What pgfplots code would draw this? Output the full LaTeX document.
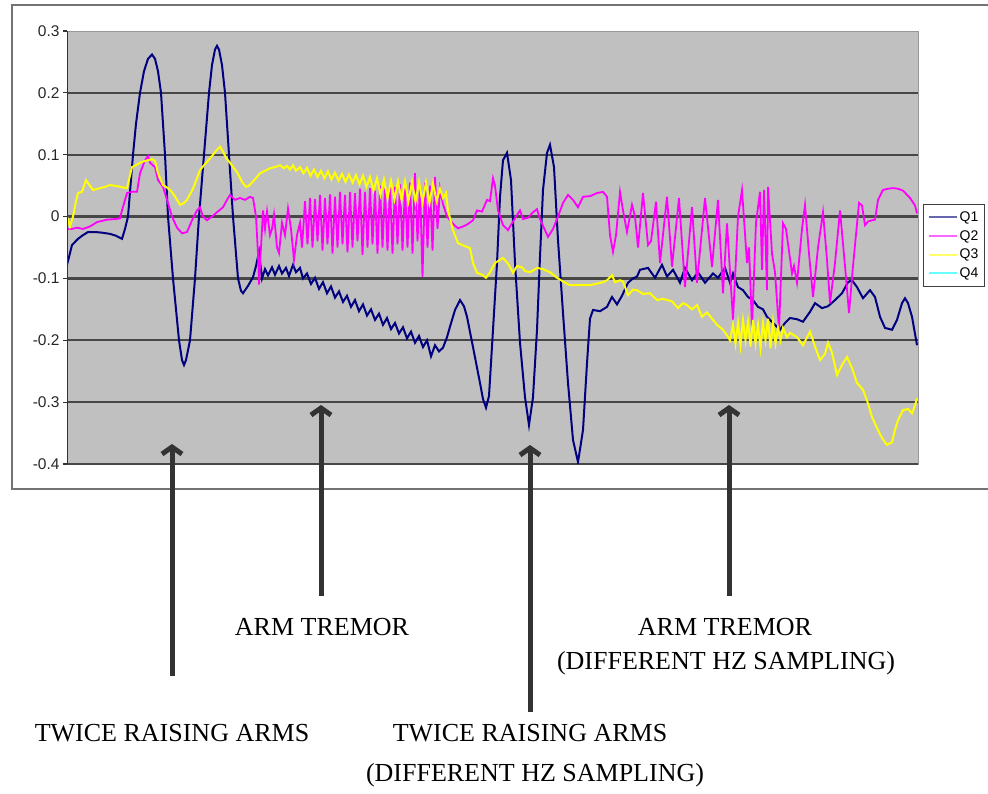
\documentclass[border=0pt]{standalone}
\usepackage{fontspec}
\setmainfont{Liberation Serif}
\newfontfamily\arialfont{Liberation Sans}
\usepackage{pgfplots}
\pgfplotsset{compat=1.18}
\usetikzlibrary{arrows.meta}
\definecolor{qone}{RGB}{0,0,128}
\definecolor{qtwo}{RGB}{255,0,255}
\definecolor{qthree}{RGB}{255,255,0}
\definecolor{qfour}{RGB}{0,255,255}
\definecolor{plotbg}{RGB}{192,192,192}
\definecolor{arrowgray}{RGB}{51,51,51}

\begin{document}
\begin{tikzpicture}[x=1pt,y=1pt]
\useasboundingbox (0,0) rectangle (988,794);
% chart frame, its right side runs off the page
\draw[black!55, line width=1.2pt] (990,789) -- (12,789) -- (12,305) -- (990,305);

\begin{axis}[
  at={(67pt,330pt)}, anchor=south west,
  scale only axis, width=851pt, height=433pt,
  xmin=67, xmax=918, ymin=-0.4, ymax=0.3,
  axis background/.style={fill=plotbg},
  axis line style={black!40, line width=0.8pt},
  xtick=\empty,
  ytick={-0.4,-0.3,-0.2,-0.1,0,0.1,0.2,0.3},
  yticklabels={-0.4,-0.3,-0.2,-0.1,0,0.1,0.2,0.3},
  ytick pos=left,
  ytick style={black!80, line width=1.2pt},
  tick align=outside, major tick length=4pt,
  yticklabel style={font=\arialfont\fontsize{15.5}{18}\selectfont, black!85},
  extra y ticks={-0.4,-0.3,-0.2,-0.1,0,0.1,0.2},
  extra y tick labels={},
  extra y tick style={grid=major, major grid style={black!72, line width=2.2pt}},
  legend style={at={(1.006,0.6005)}, anchor=north west, draw=black!75,
    line width=1pt, fill=white, font=\arialfont\fontsize{14}{16}\selectfont,
    inner xsep=4pt, inner ysep=5pt, row sep=3.5pt, cells={anchor=west}},
  legend image code/.code={\draw[#1, line width=2pt, opacity=0.6] (0pt,0pt) -- (28pt,0pt);},
]
\addplot[qone, line width=2pt] coordinates {
(67,-0.078) (72,-0.046) (78,-0.036) (83,-0.030) (88,-0.025) (95,-0.025) (102,-0.026)
(110,-0.028) (116,-0.031) (122,-0.036) (125,-0.02) (128,0.0) (133,0.1) (136,0.15)
(140,0.2) (144,0.235) (148,0.255) (152,0.262) (155,0.255) (158,0.235) (161,0.2)
(165,0.1) (168,0.0) (173,-0.1) (179,-0.2) (182,-0.232) (184,-0.24) (186,-0.232)
(190,-0.2) (195,-0.1) (199,0.0) (204,0.1) (209,0.2) (212,0.245) (215,0.27) (217,0.276)
(219,0.27) (222,0.245) (225,0.2) (229,0.1) (233,0.0) (238,-0.1) (241,-0.12) (243,-0.124)
(248,-0.112) (253,-0.098) (256,-0.08) (259,-0.057) (262,-0.1) (265,-0.085) (268,-0.095)
(272,-0.082) (275,-0.094) (279,-0.08) (282,-0.092) (286,-0.083) (289,-0.096) (293,-0.078)
(296,-0.09) (300,-0.083) (303,-0.1)
(307,-0.092) (311,-0.109) (315,-0.099) (319,-0.117) (323,-0.106) (327,-0.124) (331,-0.113)
(335,-0.131) (339,-0.121) (343,-0.138) (347,-0.128) (351,-0.146) (355,-0.135) (359,-0.153)
(363,-0.142) (367,-0.160) (371,-0.150) (375,-0.167) (379,-0.157) (383,-0.175) (387,-0.164)
(391,-0.182) (395,-0.172) (399,-0.189) (403,-0.179) (407,-0.197) (411,-0.186) (415,-0.204)
(419,-0.193) (423,-0.211) (427,-0.2) (431,-0.226) (435,-0.208)
(439,-0.218) (443,-0.212) (447,-0.195) (450,-0.178) (455,-0.151) (460,-0.135) (464,-0.145)
(467,-0.162) (473,-0.211) (480,-0.269) (483,-0.295) (486,-0.309) (489,-0.29) (493,-0.183)
(497,-0.075) (500,0.032) (503,0.091) (507,0.103) (511,0.059) (515,-0.075) (520,-0.204)
(525,-0.292) (529,-0.337) (533,-0.292) (537,-0.183) (540,-0.065) (543,0.043) (547,0.103)
(550,0.116) (554,0.08) (558,-0.038) (563,-0.156) (568,-0.269) (573,-0.361) (578,-0.397)
(583,-0.345) (587,-0.237) (590,-0.165) (593,-0.151) (600,-0.153) (607,-0.146) (612,-0.13)
(617,-0.142) (622,-0.128) (628,-0.107) (633,-0.1) (637,-0.097) (640,-0.086) (648,-0.083)
(655,-0.099) (662,-0.078) (667,-0.097) (673,-0.086) (680,-0.107) (685,-0.083) (692,-0.103)
(698,-0.09) (705,-0.107) (713,-0.092) (718,-0.099) (725,-0.083) (730,-0.107) (733,-0.092)
(738,-0.114) (743,-0.119) (748,-0.13) (753,-0.135) (758,-0.146) (763,-0.15) (767,-0.162)
(773,-0.172) (780,-0.183) (785,-0.172) (790,-0.164) (797,-0.166) (803,-0.17) (810,-0.154)
(815,-0.14) (822,-0.148) (828,-0.145) (835,-0.135) (842,-0.124) (848,-0.106) (852,-0.103)
(857,-0.114) (863,-0.132) (870,-0.119) (875,-0.13) (880,-0.162) (885,-0.18) (892,-0.183)
(897,-0.167) (902,-0.14) (905,-0.132) (908,-0.14) (912,-0.162) (917,-0.208)
};
\addlegendentry{Q1}
\addplot[qtwo, line width=1.8pt] coordinates {
(67,-0.02) (72,-0.02) (77,-0.018) (83,-0.02) (90,-0.016) (97,-0.009) (107,-0.005)
(115,-0.004) (120,-0.003) (122,0.01) (127,0.038) (132,0.04) (137,0.04) (140,0.07)
(145,0.091) (148,0.098) (150,0.087) (155,0.08) (158,0.059) (163,0.048) (167,0.027)
(172,0.0) (177,-0.018) (182,-0.027) (187,-0.025) (192,-0.006) (197,0.01) (200,0.015)
(203,0.0) (207,-0.006) (212,0.0) (217,0.007) (223,0.015) (227,0.027) (230,0.035)
(235,0.027) (240,0.03) (245,0.027) (250,0.032) (253,0.03) (256,0.0) (258,-0.06)
(259,-0.11) (261,-0.05) (263,0.01) (265,-0.02) (267,0.008) (270,-0.03) (272,-0.02)
(274,0.003) (277,-0.05) (279,-0.059) (282,-0.01) (285,-0.03) (288,0.013) (291,-0.02)
(294,-0.07) (297,-0.03) (300,-0.01) (302,-0.05)
(305,0.025) (307.5,-0.045) (310,0.03) (312.5,-0.05) (315,0.028) (317.5,-0.04)
(320,0.035) (322.5,-0.055) (325,0.03) (327.5,-0.045) (330,0.036) (332.5,-0.06)
(335,0.032) (337.5,-0.05) (340,0.04) (342.5,-0.045) (345,0.035) (347.5,-0.058)
(350,0.04) (352.5,-0.05) (355,0.038) (357.5,-0.04) (360,0.045) (362.5,-0.062)
(365,0.04) (367.5,-0.05) (370,0.046) (372.5,-0.045) (375,0.042) (377.5,-0.06)
(380,0.05) (382.5,-0.05) (385,0.045) (387.5,-0.055) (390,0.05) (392.5,-0.06)
(395,0.048) (397.5,-0.045) (400,0.052) (402.5,-0.055) (405,0.048) (407.5,-0.05)
(410,0.055) (412.5,-0.06) (415,0.07) (417.5,-0.04) (420,0.05) (422.5,-0.098)
(425,0.055) (427.5,-0.05) (430,0.05) (432.5,-0.055) (435,0.064) (437.5,-0.02)
(440,0.045)
(443,0.02) (447,0.0) (450,-0.006) (455,-0.015) (458,-0.019) (463,-0.016) (467,-0.013)
(473,-0.006) (477,0.01) (482,0.008) (487,0.027) (490,0.025) (493,0.062) (495,0.05)
(498,0.01) (503,-0.014) (508,-0.022) (513,-0.008) (518,0.005) (520,0.01) (523,-0.004)
(528,-0.002) (533,0.007) (537,0.012) (540,-0.004) (545,-0.022) (548,-0.033) (553,-0.02)
(558,0.0) (563,0.022) (568,0.035) (573,0.027) (578,0.015) (583,0.032) (590,0.033)
(597,0.038) (603,0.04) (607,0.032) (610,-0.03) (613,-0.057) (616,-0.03) (620,0.04)
(623,0.01) (627,-0.025) (632,0.019) (635,0.0) (638,-0.05) (643,0.038) (648,-0.046)
(651,-0.04) (656,0.024) (660,-0.075) (667,0.032) (672,-0.081) (679,0.03) (685,-0.114)
(692,0.015) (697,-0.107) (705,0.03) (712,-0.081) (718,0.027) (723,-0.124) (727,-0.011)
(733,-0.167) (738,0.0) (742,0.043) (747,-0.075) (749,-0.05) (752,-0.178) (756,-0.01)
(760,0.04) (762,-0.086) (764,0.043) (767,-0.119) (768,0.048) (772,-0.06) (775,-0.09)
(779,-0.183) (783,-0.011) (786,-0.02) (792,-0.092) (794,-0.08) (797,-0.107) (802,-0.02)
(805,0.019) (809,-0.06) (813,-0.13) (818,-0.05) (823,0.007) (827,-0.07) (830,-0.14)
(835,-0.075) (840,0.01) (845,-0.08) (849,-0.156) (853,-0.08) (859,0.022) (862,0.018)
(865,-0.014) (868,-0.008) (872,-0.006) (875,-0.005) (878,0.027) (883,0.043) (888,0.045)
(893,0.046) (898,0.045) (903,0.042) (910,0.03) (915,0.018) (917,0.005)
};
\addlegendentry{Q2}
\addplot[qthree, line width=2pt] coordinates {
(67,0.0) (70,-0.016) (73,0.0) (76,0.025) (78,0.038) (82,0.04) (86,0.059) (89,0.052)
(93,0.043) (100,0.046) (105,0.048) (110,0.051) (118,0.049) (123,0.047) (127,0.046)
(132,0.08) (136,0.083) (140,0.087) (145,0.09) (148,0.091) (152,0.093) (155,0.09)
(158,0.07) (163,0.051) (167,0.047) (170,0.043) (174,0.035) (177,0.027) (180,0.019)
(184,0.022) (187,0.027) (193,0.045) (200,0.075) (205,0.085) (210,0.094) (215,0.104)
(217,0.108) (220,0.113) (223,0.105) (226,0.095) (230,0.087) (234,0.078) (237,0.072)
(242,0.056) (246,0.048) (249,0.05) (252,0.055) (257,0.064) (260,0.07) (265,0.074)
(270,0.078) (275,0.08) (280,0.083) (284,0.078) (287,0.082) (290,0.076) (293,0.083)
(296,0.074) (300,0.08)
(303.5,0.07) (307,0.079) (310.5,0.066) (314,0.076) (317.5,0.064) (321,0.074)
(324.5,0.062) (328,0.073) (331.5,0.06) (335,0.071) (338.5,0.058) (342,0.069)
(345.5,0.056) (349,0.068) (352.5,0.055) (356,0.067) (359.5,0.052) (363,0.066)
(366.5,0.048) (370,0.064) (373.5,0.042) (377,0.062) (380.5,0.035) (384,0.06)
(387.5,0.03) (391,0.058) (394.5,0.028) (398,0.057) (401.5,0.027) (405,0.057)
(408.5,0.025) (412,0.056) (415.5,0.024) (419,0.056) (422.5,0.023) (426,0.055)
(429.5,0.022) (433,0.054) (436.5,0.025) (440,0.045)
(443,0.03) (446,0.038) (448,0.01) (453,-0.022) (458,-0.043) (465,-0.048) (470,-0.051)
(473,-0.075) (477,-0.091) (482,-0.094) (486,-0.099) (490,-0.09) (495,-0.075) (500,-0.07)
(503,-0.067) (508,-0.076) (513,-0.091) (517,-0.08) (522,-0.082) (525,-0.088) (530,-0.09)
(537,-0.083) (543,-0.085) (550,-0.09) (557,-0.099) (563,-0.105) (570,-0.111) (580,-0.111)
(590,-0.111) (598,-0.108) (603,-0.106) (607,-0.103) (612,-0.095) (615,-0.106) (620,-0.103)
(623,-0.105) (628,-0.127) (633,-0.118) (637,-0.119) (643,-0.125) (650,-0.124) (657,-0.135)
(663,-0.133) (672,-0.137) (678,-0.148) (683,-0.14) (687,-0.143) (692,-0.15) (697,-0.143)
(702,-0.162) (707,-0.155) (712,-0.165) (717,-0.175) (723,-0.183) (727,-0.192) (730,-0.2)
(733,-0.175) (735.5,-0.205) (738,-0.172) (740.5,-0.208) (743,-0.168) (745.5,-0.2)
(748,-0.17) (750.5,-0.21) (753,-0.167) (755.5,-0.205) (758,-0.175) (760.5,-0.212)
(763,-0.172) (765.5,-0.2) (768,-0.165) (770.5,-0.213) (773,-0.17) (775.5,-0.205)
(778,-0.18) (780.5,-0.2) (783,-0.18) (787,-0.195) (790,-0.188) (797,-0.195) (803,-0.208)
(810,-0.186) (815,-0.21) (820,-0.232) (825,-0.222) (828,-0.204) (832,-0.22) (837,-0.256)
(842,-0.24) (847,-0.227) (852,-0.245) (857,-0.269) (863,-0.28) (868,-0.302) (872,-0.324)
(877,-0.342) (882,-0.358) (887,-0.369) (892,-0.365) (895,-0.345) (898,-0.329) (903,-0.313)
(908,-0.311) (912,-0.318) (915,-0.305) (917,-0.294)
};
\addlegendentry{Q3}
\addlegendimage{qfour, line width=2pt}
\addlegendentry{Q4}
% darker left axis line, as in the original
\draw[black!80, line width=1.6pt] (rel axis cs:0,0) -- (rel axis cs:0,1);
\end{axis}

% annotations under the chart
\begin{scope}[arrowgray, line width=5pt]
\draw[-{Straight Barb[length=7pt,width=20pt]}] (172,118) -- (172,350);
\draw[-{Straight Barb[length=7pt,width=20pt]}] (321,198) -- (321,389);
\draw[-{Straight Barb[length=7pt,width=20pt]}] (530,82) -- (530,349);
\draw[-{Straight Barb[length=7pt,width=20pt]}] (729,198) -- (729,389);
\end{scope}
\begin{scope}[font=\fontsize{26}{30}\selectfont]
\node at (322,167) {ARM TREMOR};
\node at (725,167) {ARM TREMOR};
\node at (726,131) {(DIFFERENT HZ SAMPLING)};
\node at (172,61) {TWICE RAISING ARMS};
\node at (530,61) {TWICE RAISING ARMS};
\node at (535,19) {(DIFFERENT HZ SAMPLING)};
\end{scope}
\end{tikzpicture}
\end{document}
